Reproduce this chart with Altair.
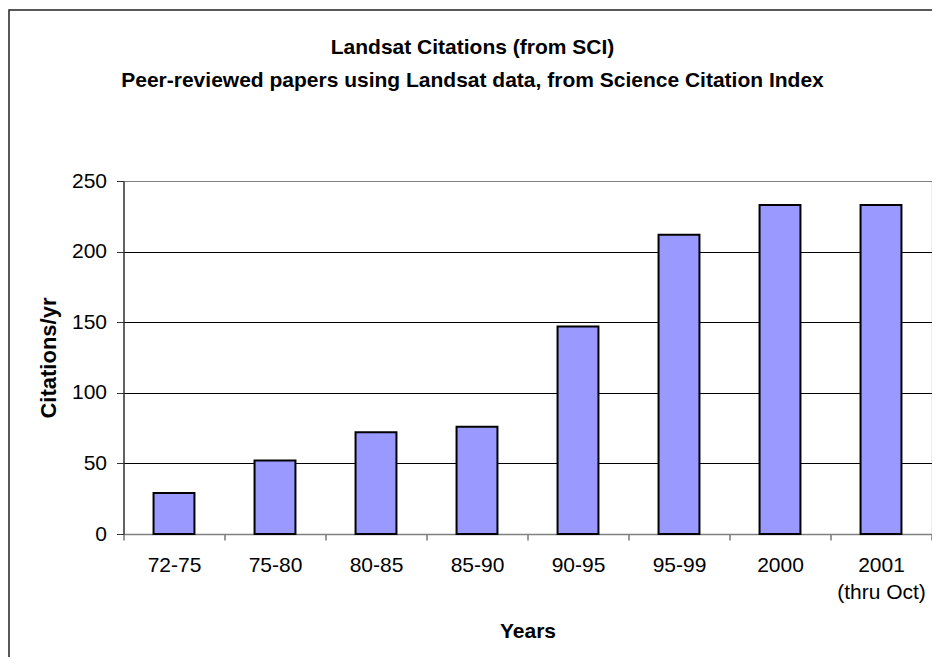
import altair as alt
import pandas as pd

categories = ["72-75", "75-80", "80-85", "85-90", "90-95", "95-99", "2000", "2001|(thru Oct)"]
citations = [29, 52, 72, 76, 147, 212, 233, 233]
y_ticks = [0, 50, 100, 150, 200, 250]
title_lines = ["Landsat Citations (from SCI)",
               "Peer-reviewed papers using Landsat data, from Science Citation Index"]

df = pd.DataFrame({"Years": categories, "Citations": citations})

FONT = "Liberation Sans"

bars = alt.Chart(df).mark_bar(
    width=alt.RelativeBandSize(0.405),
    fill="#9999FF",
    stroke="black",
    strokeWidth=2,
).encode(
    x=alt.X("Years:N", sort=categories,
            scale=alt.Scale(paddingInner=0, paddingOuter=0),
            axis=alt.Axis(
                title="Years",
                labelAngle=0,
                labelExpr="split(datum.label, '|')",
                labelFont=FONT, labelFontSize=21, labelColor="black",
                labelBaseline="alphabetic", labelPadding=31, labelLineHeight=27,
                tickBand="extent", tickSize=6, tickColor="#333333",
                domainColor="#808080", domainWidth=1.5,
                titleFont=FONT, titleFontSize=21, titleFontWeight="bold",
                titleColor="black", titleBaseline="alphabetic",
                titleX=404, titleY=103, titleAnchor="middle",
                grid=False,
            )),
    y=alt.Y("Citations:Q",
            scale=alt.Scale(domain=[0, 250], nice=False),
            axis=alt.Axis(
                title="Citations/yr",
                values=y_ticks,
                labelFont=FONT, labelFontSize=21, labelColor="black",
                labelPadding=10, tickSize=7, tickColor="#333333",
                domainColor="#333333", domainWidth=1.5,
                grid=True,
                gridColor={"condition": {"test": "datum.value == 250 || datum.value == 0",
                                         "value": "#808080"}, "value": "black"},
                gridWidth=1,
                titleFont=FONT, titleFontSize=22, titleFontWeight="bold",
                titleColor="black", titleBaseline="alphabetic",
                titleX=-68.5, titleY=176.5, titleAngle=270,
            )),
)

frame = alt.Chart(pd.DataFrame({"f": [0]})).mark_rect(
    fill=None, stroke="#222222", strokeWidth=1.5
).encode(
    x=alt.value(-114.5), x2=alt.value(900),
    y=alt.value(-171), y2=alt.value(600),
)

chart = alt.layer(frame, bars).properties(
    width=808,
    height=353,
    title=alt.TitleParams(
        text=title_lines,
        font=FONT, fontSize=21, fontWeight="bold", color="black",
        anchor="middle", lineHeight=33, dx=-55, offset=10,
        baseline="top", dy=92,
    ),
    autosize=alt.AutoSizeParams(type="none"),
    padding={"left": 115.5, "top": 173, "right": 0.5, "bottom": 123},
).configure_view(
    stroke="#808080", strokeWidth=1.5
).configure(background="white")

chart.save("out.html", embed_options={"renderer": "svg", "actions": False})
